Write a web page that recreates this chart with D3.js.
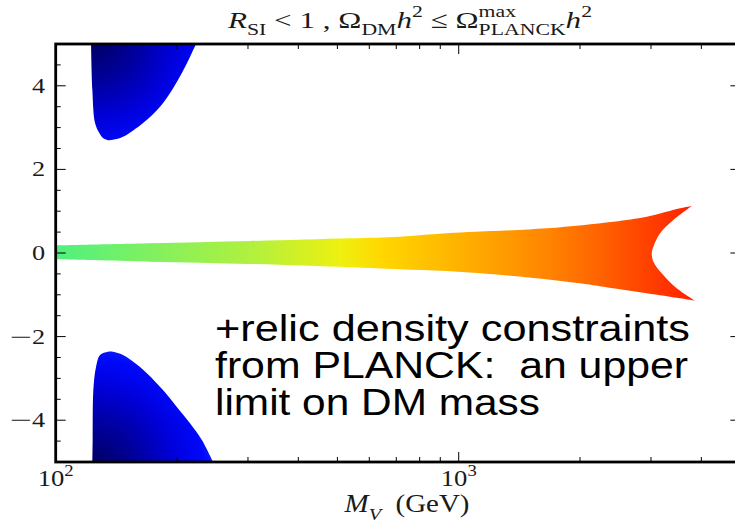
<!DOCTYPE html>
<html>
<head>
<meta charset="utf-8">
<script src="https://cdnjs.cloudflare.com/ajax/libs/d3/7.8.5/d3.min.js"></script>
<style>
  body { margin: 0; background: #fff; }
  svg text { white-space: pre; }
</style>
</head>
<body>
<div id="chart"></div>
<script>
// boundary points, [M_V in GeV, y]
const upperBlob = [[122.4, 5], [123.3, 3.9], [125.2, 3.11], [128.3, 2.87], [131, 2.75], [134.8, 2.70],
  [138.7, 2.71], [146.9, 2.78], [164.7, 3.11], [181.5, 3.50], [194.4, 3.90], [205.8, 4.31], [215.4, 4.69], [222.9, 5]];
const lowerBlob = [[123.3, -5], [123.5, -4.48], [124, -3.28], [125.9, -2.73], [128.8, -2.44], [134.8, -2.36],
  [138.7, -2.36], [146.9, -2.44], [161.9, -2.73], [184.6, -3.28], [200, -3.69], [215.4, -4.07], [230.7, -4.48], [245.6, -5]];
const bandTop = [[100, 0.18], [171.4, 0.232], [303.5, 0.287], [537.4, 0.352], [715, 0.39], [933.7, 0.472],
  [1653.6, 0.592], [2418.5, 0.75], [2928.3, 0.869], [3541.3, 1.071], [3786.6, 1.126]];
const bandNotch = [[3786.6, 1.126], [3408.3, 0.79], [3159.9, 0.472], [3041.2, 0.151], [3013.3, 0], [3041.2, -0.208],
  [3190, -0.486], [3474.9, -0.846], [3858.4, -1.143]];
const bandBottom = [[3858.4, -1.143], [3541.3, -1.085], [2928.3, -0.965], [2418.5, -0.846], [2000, -0.726],
  [1366.4, -0.551], [933.7, -0.431], [715, -0.39], [537.4, -0.343], [303.5, -0.263], [171.4, -0.208], [100, -0.151]];

// colour of the band along M_V
const bandColors = [[100, "#50f080"], [171, "#80f060"], [303, "#b0f040"], [510, "#eef010"], [637, "#ffd800"],
  [1128, "#ffa800"], [1670, "#ff8400"], [2220, "#ff6400"], [2955, "#ff4000"], [3700, "#ff2400"]];

const xMajor = [100, 1000];
const yMajor = [-4, -2, 0, 2, 4];
const yMinor = d3.range(-5, 5.01, 0.5);
const noteLines = ["+relic density constraints", "from PLANCK:  an upper", "limit on DM mass"];

const width = 735, height = 526;
const plot = { left: 55.7, right: 740.4, top: 44, bottom: 462 };

const x = d3.scaleLog().domain([100, 5000]).range([plot.left, plot.right]);
const y = d3.scaleLinear().domain([-5, 5]).range([plot.bottom, plot.top]);

const svg = d3.select("#chart").append("svg")
  .attr("width", width)
  .attr("height", height);

const defs = svg.append("defs");
defs.append("clipPath").attr("id", "clip")
  .append("rect")
  .attr("x", plot.left).attr("y", plot.top)
  .attr("width", plot.right - plot.left).attr("height", plot.bottom - plot.top);

const bandGrad = defs.append("linearGradient")
  .attr("id", "bandGrad")
  .attr("gradientUnits", "userSpaceOnUse")
  .attr("x1", plot.left).attr("x2", plot.right)
  .attr("y1", 0).attr("y2", 0);
bandColors.forEach(([m, c]) => {
  bandGrad.append("stop")
    .attr("offset", (x(m) - plot.left) / (plot.right - plot.left))
    .attr("stop-color", c);
});

function blueGrad(id, cx, cy) {
  const g = defs.append("radialGradient")
    .attr("id", id)
    .attr("gradientUnits", "userSpaceOnUse")
    .attr("cx", cx).attr("cy", cy).attr("r", 150);
  [[0, "#00005a"], [0.3, "#00009a"], [0.55, "#0000d8"], [0.75, "#0008fc"], [1, "#1c4cff"]].forEach(([o, c]) => {
    g.append("stop").attr("offset", o).attr("stop-color", c);
  });
}
blueGrad("blueTop", x(122), y(5.2));
blueGrad("blueBot", x(122), y(-5.2));

const line = d3.line()
  .x(d => x(d[0]))
  .y(d => y(d[1]))
  .curve(d3.curveCatmullRom.alpha(0.5));

const area = svg.append("g").attr("clip-path", "url(#clip)");

area.append("path")
  .attr("d", line(upperBlob) + "Z")
  .attr("fill", "url(#blueTop)");

area.append("path")
  .attr("d", line(lowerBlob) + "Z")
  .attr("fill", "url(#blueBot)");

// band: three smooth pieces joined at the sharp tips
const bandPath = line(bandTop) +
  line(bandNotch).replace(/^M/, "L") +
  line(bandBottom).replace(/^M/, "L") + "Z";
area.append("path")
  .attr("d", bandPath)
  .attr("fill", "url(#bandGrad)");

// ticks, mirrored on all four sides, pointing inwards
const ticks = svg.append("g").attr("stroke", "#000").attr("stroke-width", 1);
x.ticks().forEach(t => {
  const len = xMajor.includes(t) ? 10 : 5;
  ticks.append("line").attr("x1", x(t)).attr("x2", x(t)).attr("y1", plot.bottom).attr("y2", plot.bottom - len);
  ticks.append("line").attr("x1", x(t)).attr("x2", x(t)).attr("y1", plot.top).attr("y2", plot.top + len);
});
yMinor.forEach(t => {
  const len = yMajor.includes(t) ? 10 : 5;
  ticks.append("line").attr("y1", y(t)).attr("y2", y(t)).attr("x1", plot.left).attr("x2", plot.left + len);
  ticks.append("line").attr("y1", y(t)).attr("y2", y(t)).attr("x1", plot.right).attr("x2", plot.right - len);
});

svg.append("rect")
  .attr("x", plot.left).attr("y", plot.top)
  .attr("width", plot.right - plot.left).attr("height", plot.bottom - plot.top)
  .attr("fill", "none")
  .attr("stroke", "#000")
  .attr("stroke-width", 2.8);

// simple maths typesetting: pieces laid out one after another,
// then stretched sideways (opt.sx) or to a given width (opt.target)
function mathText(px, py, parts, size, anchor, opt) {
  opt = opt || {};
  const g = svg.append("g").attr("fill", "#1a1a1a")
    .style("font-family", "'Liberation Serif', 'DejaVu Serif', serif");
  const inner = g.append("g");
  let cx = 0, prevStart = 0, prevEnd = 0;
  parts.forEach(p => {
    const small = p.sub || p.sup;
    const s = small ? size * 0.7 : size;
    const dy = p.sub ? size * 0.3 : p.sup ? -size * 0.45 : 0;
    const start = p.over ? prevStart : cx;
    const psx = p.sx || 1;
    const t = inner.append("text")
      .attr("transform", `translate(${start},${dy}) scale(${psx},1)`)
      .style("font-size", s + "px")
      .style("font-style", p.it ? "italic" : "normal")
      .text(p.t);
    const w = t.node().getComputedTextLength() * psx;
    const end = start + w;
    cx = p.over ? Math.max(prevEnd, end) : end;
    prevStart = start;
    prevEnd = end;
  });
  const sx = opt.target ? opt.target / cx : (opt.sx || 1);
  const w = cx * sx;
  const shift = anchor === "middle" ? w / 2 : anchor === "end" ? w : 0;
  inner.attr("transform", `scale(${sx},1)`);
  g.attr("transform", `translate(${px - shift},${py})`);
}

mathText(410, 28, [
  { t: "R", it: true }, { t: "SI", sub: true }, { t: " < 1 , Ω" }, { t: "DM", sub: true },
  { t: "h", it: true }, { t: "2", sup: true }, { t: " ≤ Ω" }, { t: "max", sup: true },
  { t: "PLANCK", sub: true, over: true }, { t: "h", it: true }, { t: "2", sup: true }
], 24, "middle", { target: 364 });

mathText(407, 512, [
  { t: "M", it: true }, { t: "V", sub: true, it: true }, { t: "  (GeV)" }
], 25, "middle", { target: 125 });

xMajor.forEach(t => {
  mathText(x(t), 486, [{ t: "10" }, { t: String(Math.log10(t)), sup: true }], 23, "middle", { target: 36 });
});

yMajor.forEach(t => {
  const parts = t < 0
    ? [{ t: "\u2212", sx: 1.5 }, { t: String(Math.abs(t)) }]
    : [{ t: String(t) }];
  mathText(45, y(t) + 7, parts, 21, "end", { sx: 1.25 });
});

// annotation, each line stretched to its width in the picture
const noteWidths = [475, 473, 325];
noteLines.forEach((s, i) => {
  svg.append("text")
    .attr("x", 215)
    .attr("y", 341 + i * 37)
    .attr("fill", "#000")
    .attr("textLength", noteWidths[i])
    .attr("lengthAdjust", "spacingAndGlyphs")
    .style("font-family", "'Liberation Sans', Arial, sans-serif")
    .style("font-size", "37px")
    .text(s);
});
</script>
</body>
</html>
